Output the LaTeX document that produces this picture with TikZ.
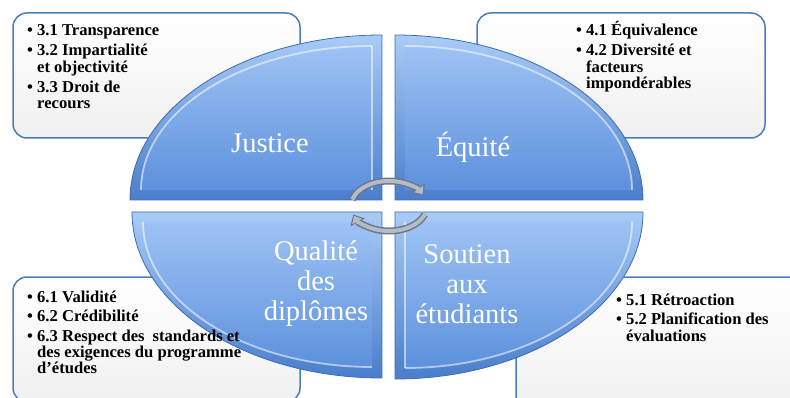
\documentclass[tikz,border=0pt]{standalone}
\usepackage{fontspec}
\setmainfont{Liberation Serif}
\usetikzlibrary{arrows.meta}
\definecolor{boxedge}{HTML}{4A7EBB}
\definecolor{boxfill}{HTML}{F0F0F0}
\definecolor{qotop}{HTML}{A9CBF6}
\definecolor{qobot}{HTML}{4A7ECB}
\definecolor{qitop}{HTML}{9EC2F4}
\definecolor{qibot}{HTML}{5D91DD}
\definecolor{qline}{HTML}{3E6CB0}
\definecolor{arrdark}{HTML}{6E7787}
\definecolor{arrlight}{HTML}{B4BCC9}
\newcommand\bul{\makebox[10pt][l]{\textbullet}}
\begin{document}
\begin{tikzpicture}[x=1pt,y=-1pt,
  boxst/.style={draw=boxedge, line width=1.5pt, rounded corners=14pt, top color=white, bottom color=boxfill},
  quadout/.style={top color=qotop, bottom color=qobot, draw=qline, line width=0.8pt},
  quadin/.style={top color=qitop, bottom color=qibot},
  shine/.style={draw=white, opacity=0.55, line width=1.8pt},
  listtxt/.style={anchor=base west, inner sep=0pt, font=\bfseries\fontsize{16.6}{16}\selectfont},
  quadlbl/.style={text=white, align=center, inner sep=0pt, font=\fontsize{28.5}{30}\selectfont},
  arrout/.style={draw=arrdark, line width=7pt, -{Triangle[length=9pt,width=16pt]}},
  arrin/.style={draw=arrlight, line width=4pt, shorten >=1.5pt, -{Triangle[length=6.5pt,width=11pt]}}
]
\useasboundingbox (0,0) rectangle (790,398);
\clip (0,0) rectangle (790,398);

% callout boxes
\path[boxst] (13,13) rectangle (300,138);
\path[boxst] (477,13) rectangle (765,138);
\path[boxst] (13,277) rectangle (300,402);
\path[boxst] (516,277) rectangle (805,412);

% quadrants: Justice
\path[quadout] (382,200) -- (382,35) arc[start angle=-90, end angle=-180, x radius=252, y radius=165] -- cycle;
\path[quadin] (372,190) -- (372,46) arc[start angle=-90, end angle=-180, x radius=231, y radius=144] -- cycle;
\path[shine] (372,46) arc[start angle=-90, end angle=-180, x radius=231, y radius=144];
\path[shine] (372,46) -- (372,190);
% Equite
\path[quadout] (395,200) -- (395,35) arc[start angle=-90, end angle=0, x radius=248, y radius=165] -- cycle;
\path[quadin] (405,190) -- (405,46) arc[start angle=-90, end angle=0, x radius=227, y radius=144] -- cycle;
\path[shine] (405,46) arc[start angle=-90, end angle=0, x radius=227, y radius=144];
% Qualite
\path[quadout] (382,212) -- (382,378) arc[start angle=90, end angle=180, x radius=250, y radius=166] -- cycle;
\path[quadin] (372,222) -- (372,367) arc[start angle=90, end angle=180, x radius=229, y radius=145] -- cycle;
\path[shine] (372,367) arc[start angle=90, end angle=180, x radius=229, y radius=145];
% Soutien
\path[quadout] (395,212) -- (395,379) arc[start angle=90, end angle=0, x radius=248, y radius=167] -- cycle;
\path[quadin] (405,222) -- (405,368) arc[start angle=90, end angle=0, x radius=227, y radius=146] -- cycle;
\path[shine] (405,368) arc[start angle=90, end angle=0, x radius=227, y radius=146];
\path[shine] (405,222) -- (405,368);

% quadrant labels
\node[quadlbl] (justice) at (270,143) {Justice};
\node[quadlbl] (equite) at (473,147) {Équité};
\node[quadlbl] (qualite) at (316,284) {Qualité\\des\\diplômes};
\node[quadlbl] (soutien) at (467,284) {Soutien\\aux\\étudiants};

% lists
\node[listtxt] (l3) at (27,35.5) {\begin{tabular}[t]{@{}l@{}l@{}}
\bul & 3.1 Transparence\\[4pt]
\bul & 3.2 Impartialité\\ & et objectivité\\[4pt]
\bul & 3.3 Droit de\\ & recours
\end{tabular}};
\node[listtxt] (l4) at (576,35.5) {\begin{tabular}[t]{@{}l@{}l@{}}
\bul & 4.1 Équivalence\\[4pt]
\bul & 4.2 Diversité et\\ & facteurs\\ & impondérables
\end{tabular}};
\node[listtxt] (l6) at (27,302.5) {\begin{tabular}[t]{@{}l@{}l@{}}
\bul & 6.1 Validité\\[3pt]
\bul & 6.2 Crédibilité\\[3pt]
\bul & 6.3 Respect des\hspace{8pt}standards et\\ & des exigences du programme\\ & d’études
\end{tabular}};
\node[listtxt] (l5) at (616,305.5) {\begin{tabular}[t]{@{}l@{}l@{}}
\bul & 5.1 Rétroaction\\[3pt]
\bul & 5.2 Planification des\\ & évaluations
\end{tabular}};

% circular arrows
\coordinate (ctr) at (389,206);
\draw[arrout] (ctr) ++(-165:38 and 25) arc[start angle=-165, end angle=-25, x radius=38, y radius=25];
\draw[arrin] (ctr) ++(-165:38 and 25) arc[start angle=-165, end angle=-25, x radius=38, y radius=25];
\draw[arrout] (ctr) ++(20:38 and 25) arc[start angle=20, end angle=160, x radius=38, y radius=25];
\draw[arrin] (ctr) ++(20:38 and 25) arc[start angle=20, end angle=160, x radius=38, y radius=25];
\end{tikzpicture}
\end{document}
